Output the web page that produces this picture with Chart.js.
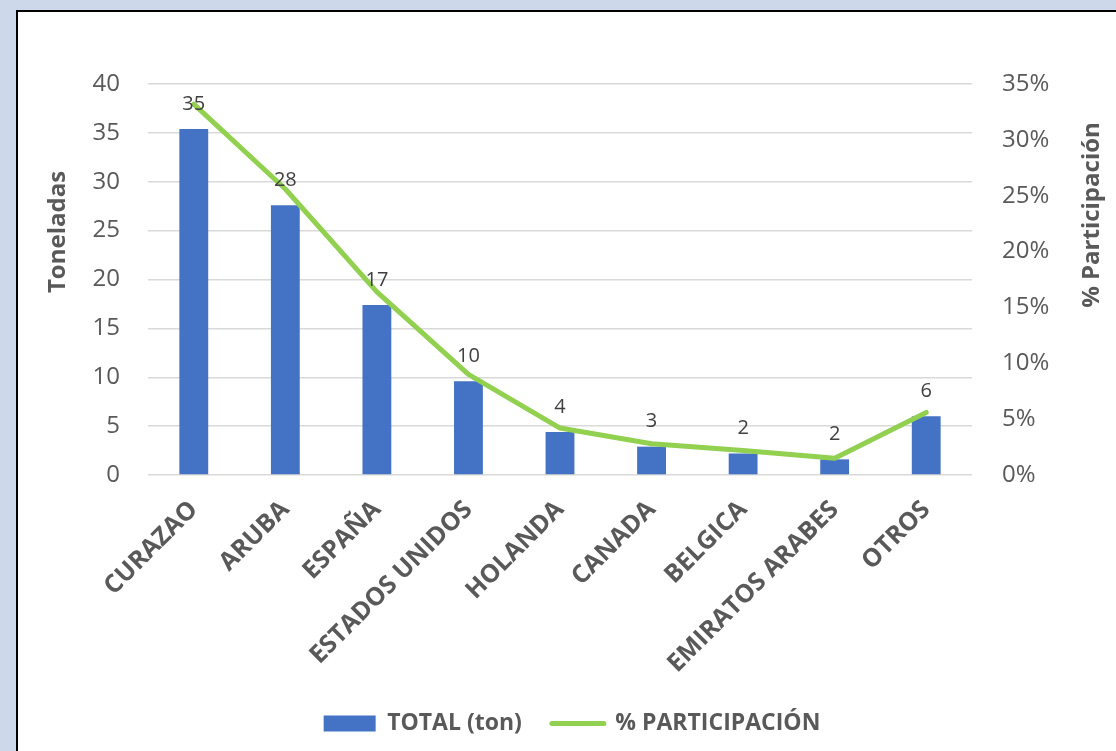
<!DOCTYPE html>
<html>
<head>
<meta charset="utf-8">
<script src="https://cdn.jsdelivr.net/npm/chart.js@4.4.1/dist/chart.umd.min.js"></script>
<style>
    html, body {
        margin: 0;
        padding: 0;
        width: 1116px;
        height: 751px;
        overflow: hidden;
        background: #cdd9eb;
    }
    #frame {
        position: absolute;
        left: 16px;
        top: 10px;
        width: 1200px;
        height: 800px;
        background: #fff;
        border: 2px solid #000;
    }
    #wrap {
        position: absolute;
        left: 0;
        top: 0;
        width: 1116px;
        height: 751px;
    }
</style>
</head>
<body>
<div id="frame"></div>
<div id="wrap"><canvas id="chart"></canvas></div>
<script>
const countries = ["CURAZAO", "ARUBA", "ESPAÑA", "ESTADOS UNIDOS", "HOLANDA", "CANADA", "BELGICA", "EMIRATOS ARABES", "OTROS"];
const totalTon = [35.4, 27.6, 17.4, 9.6, 4.4, 2.9, 2.2, 1.6, 6.0];
const participacion = [0.332, 0.256, 0.164, 0.090, 0.042, 0.028, 0.022, 0.015, 0.056];
const tonTicks = [0, 5, 10, 15, 20, 25, 30, 35, 40];
const pctTicks = [0, 0.05, 0.10, 0.15, 0.20, 0.25, 0.30, 0.35];

const FONT = "'Open Sans', sans-serif";
const GREY = "#595959";

const setTicks = list => scale => {
    scale.ticks = list.map(value => ({value}));
};

// bar value labels + both axis titles (right one reads bottom-up like the left)
const extras = {
    id: "extras",
    afterDatasetsDraw(chart) {
        const {ctx} = chart;
        const bars = chart.getDatasetMeta(0).data;
        ctx.save();
        ctx.font = "20px " + FONT;
        ctx.fillStyle = "#404040";
        ctx.textAlign = "center";
        ctx.textBaseline = "middle";
        bars.forEach((bar, i) => ctx.fillText(String(Math.round(totalTon[i])), bar.x, bar.y - 25));
        ctx.restore();
    },
    afterDraw(chart) {
        const {ctx, chartArea} = chart;
        const titles = [
            ["Toneladas", chartArea.left - 90, chartArea.top + 148],
            ["% Participación", chartArea.right + 120, chartArea.top + 131]
        ];
        ctx.save();
        ctx.font = "bold 24px " + FONT;
        ctx.fillStyle = GREY;
        ctx.textAlign = "center";
        ctx.textBaseline = "middle";
        titles.forEach(([text, x, y]) => {
            ctx.save();
            ctx.translate(x, y);
            ctx.rotate(-Math.PI / 2);
            ctx.fillText(text, 0, 0);
            ctx.restore();
        });
        ctx.restore();
    }
};

const draw = () => new Chart("chart", {
    data: {
        labels: countries,
        datasets: [
            {
                type: "bar",
                label: "TOTAL (ton)",
                data: totalTon,
                backgroundColor: "#4472c4",
                borderWidth: 0,
                barPercentage: 0.315,
                categoryPercentage: 1,
                yAxisID: "y",
                order: 1
            },
            {
                type: "line",
                label: "% PARTICIPACIÓN",
                data: participacion,
                borderColor: "#92d050",
                backgroundColor: "#92d050",
                borderWidth: 5,
                borderCapStyle: "round",
                borderJoinStyle: "round",
                pointRadius: 0,
                tension: 0,
                yAxisID: "y1",
                order: 0
            }
        ]
    },
    options: {
        responsive: true,
        maintainAspectRatio: false,
        animation: false,
        layout: {padding: {left: 28, right: 0, top: 84, bottom: 6}},
        scales: {
            x: {
                offset: true,
                grid: {display: false},
                border: {display: false},
                ticks: {
                    minRotation: 45,
                    maxRotation: 45,
                    padding: 12,
                    color: GREY,
                    font: {family: FONT, size: 25, weight: "bold"}
                },
                afterFit: scale => { scale.height = 207; }
            },
            y: {
                position: "left",
                min: 0,
                max: 40,
                afterBuildTicks: setTicks(tonTicks),
                grid: {color: "#d9d9d9", lineWidth: 1.4, drawTicks: false},
                border: {display: false},
                ticks: {
                    padding: 28,
                    color: GREY,
                    font: {family: FONT, size: 24}
                },
                afterFit: scale => { scale.width = 120; }
            },
            y1: {
                position: "right",
                min: 0,
                max: 0.35,
                afterBuildTicks: setTicks(pctTicks),
                grid: {display: false, drawTicks: false},
                border: {display: false},
                ticks: {
                    padding: 30,
                    color: GREY,
                    font: {family: FONT, size: 24},
                    callback: v => Math.round(v * 100) + "%"
                },
                afterFit: scale => { scale.width = 144; }
            }
        },
        plugins: {
            tooltip: {enabled: false},
            legend: {
                position: "bottom",
                labels: {
                    usePointStyle: true,
                    pointStyleWidth: 52,
                    boxHeight: 16,
                    padding: 30,
                    color: GREY,
                    font: {family: FONT, size: 23, weight: "bold"},
                    sort: (a, b) => a.datasetIndex - b.datasetIndex,
                    generateLabels: chart => {
                        const items = Chart.defaults.plugins.legend.labels.generateLabels(chart);
                        items.forEach(item => {
                            if (item.datasetIndex === 0) {
                                item.pointStyle = "rect";
                                item.lineWidth = 0;
                            } else {
                                item.pointStyle = "line";
                                item.lineWidth = 5;
                                item.lineCap = "round";
                            }
                        });
                        return items;
                    }
                }
            }
        }
    },
    plugins: [extras]
});

Promise.all([
    document.fonts.load("24px 'Open Sans'"),
    document.fonts.load("bold 24px 'Open Sans'")
]).then(draw, draw);
</script>
</body>
</html>
